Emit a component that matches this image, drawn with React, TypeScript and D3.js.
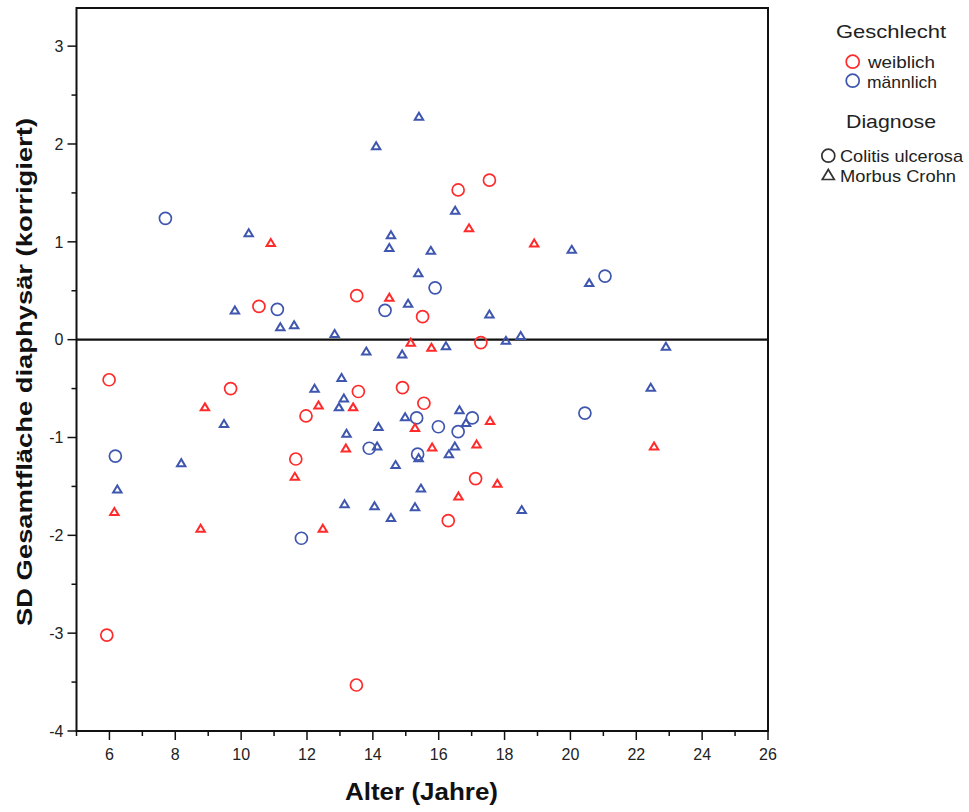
import React from "react";
import * as d3 from "d3";

// [age, sd]
const femaleUC: [number, number][] = [
  [16.59, 1.53], [17.54, 1.63], [13.51, 0.45], [15.51, 0.235], [10.54, 0.34],
  [17.28, -0.03], [5.99, -0.41], [9.68, -0.5], [13.56, -0.53], [14.9, -0.49],
  [15.55, -0.65], [11.97, -0.78], [11.66, -1.22], [17.12, -1.42], [16.29, -1.85],
  [5.92, -3.02], [13.5, -3.53],
];
const femaleCD: [number, number][] = [
  [10.9, 0.99], [14.5, 0.43], [16.92, 1.14], [18.9, 0.985], [15.15, -0.03],
  [15.78, -0.08], [12.35, -0.67], [13.4, -0.69], [8.9, -0.69], [15.28, -0.9],
  [13.18, -1.11], [15.8, -1.1], [17.56, -0.83], [17.15, -1.07], [22.54, -1.09],
  [11.63, -1.4], [17.78, -1.47], [16.6, -1.6], [6.15, -1.76], [8.77, -1.93],
  [12.48, -1.93],
];
const maleUC: [number, number][] = [
  [7.7, 1.24], [11.1, 0.31], [14.37, 0.3], [15.89, 0.53], [21.05, 0.65],
  [15.33, -0.8], [15.99, -0.89], [13.89, -1.11], [15.36, -1.17], [6.18, -1.19],
  [20.44, -0.75], [16.59, -0.94], [17.02, -0.8], [11.83, -2.03],
];
const maleCD: [number, number][] = [
  [15.4, 2.28], [14.1, 1.98], [10.23, 1.09], [14.55, 1.07], [14.5, 0.94],
  [15.76, 0.91], [15.38, 0.68], [15.07, 0.37], [9.81, 0.3], [11.19, 0.13],
  [11.61, 0.15], [12.84, 0.06], [16.5, 1.32], [20.04, 0.92], [20.57, 0.58],
  [17.54, 0.26], [18.49, 0.04], [18.04, -0.01], [22.9, -0.07], [16.22, -0.065],
  [13.8, -0.12], [14.89, -0.15], [13.05, -0.39], [12.23, -0.5], [13.12, -0.6],
  [12.97, -0.69], [9.48, -0.86], [14.98, -0.79], [14.17, -0.89], [13.2, -0.96],
  [14.13, -1.09], [15.39, -1.21], [8.18, -1.26], [14.69, -1.28], [6.24, -1.53],
  [15.46, -1.52], [13.14, -1.68], [14.05, -1.7], [15.28, -1.71], [14.55, -1.82],
  [22.44, -0.49], [16.63, -0.72], [16.83, -0.85], [16.49, -1.09], [16.31, -1.17],
  [18.52, -1.74],
];

const xMajorTicks = [6, 8, 10, 12, 14, 16, 18, 20, 22, 24, 26];
const xMinorTicks = [5, 7, 9, 11, 13, 15, 17, 19, 21, 23, 25];
const yMajorTicks = [-4, -3, -2, -1, 0, 1, 2, 3];
const yMinorTicks = [-3.5, -2.5, -1.5, -0.5, 0.5, 1.5, 2.5];

const xTitle = "Alter (Jahre)";
const yTitle = "SD Gesamtfläche diaphysär (korrigiert)";
const legendSexTitle = "Geschlecht";
const legendSex = ["weiblich", "männlich"];
const legendDiagTitle = "Diagnose";
const legendDiag = ["Colitis ulcerosa", "Morbus Crohn"];

const RED = "#ff2a2a";
const BLUE = "#3f56ae";
const FONT = "'Liberation Sans', Arial, sans-serif";

const x = d3.scaleLinear().domain([5, 26]).range([76.5, 768]);
const y = d3.scaleLinear().domain([-4, 3.39]).range([731, 8]);

const triPath = "M0,-3.8L4.2,3.2L-4.2,3.2Z";

export default function App() {
  const [x0, x1] = x.range();
  const [y0, y1] = y.range();
  const circ = (data: [number, number][], color: string, key: string) =>
    data.map((d, i) => (
      <circle key={key + i} cx={x(d[0])} cy={y(d[1])} r={6} fill="none" stroke={color} strokeWidth={1.7} />
    ));
  const tri = (data: [number, number][], color: string, key: string) =>
    data.map((d, i) => (
      <path key={key + i} d={triPath} transform={`translate(${x(d[0])},${y(d[1])})`} fill="none" stroke={color} strokeWidth={2} strokeLinejoin="miter" />
    ));
  return (
    <svg width={969} height={812} style={{ position: "absolute", left: 0, top: 0, background: "#fff" }} fontFamily={FONT}>
      <rect x={0} y={0} width={969} height={812} fill="#fff" />
      {/* frame */}
      <rect x={x0} y={y1} width={x1 - x0} height={y0 - y1} fill="none" stroke="#111" strokeWidth={2} />
      {/* zero line */}
      <line x1={x0} x2={x1} y1={y(0)} y2={y(0)} stroke="#111" strokeWidth={2.2} />
      {/* y ticks */}
      {yMajorTicks.map((t) => (
        <g key={"ym" + t}>
          <line x1={x0 - 9} x2={x0} y1={y(t)} y2={y(t)} stroke="#111" strokeWidth={1.5} />
          <text x={x0 - 13} y={y(t)} dy="0.36em" textAnchor="end" fontSize={16} fill="#222">{t}</text>
        </g>
      ))}
      {yMinorTicks.map((t) => (
        <line key={"yn" + t} x1={x0 - 5} x2={x0} y1={y(t)} y2={y(t)} stroke="#111" strokeWidth={1.5} />
      ))}
      {/* x ticks */}
      {xMajorTicks.map((t) => (
        <g key={"xm" + t}>
          <line x1={x(t)} x2={x(t)} y1={y0} y2={y0 + 9} stroke="#111" strokeWidth={1.5} />
          <text x={x(t)} y={760} textAnchor="middle" fontSize={16} fill="#222">{t}</text>
        </g>
      ))}
      {xMinorTicks.map((t) => (
        <line key={"xn" + t} x1={x(t)} x2={x(t)} y1={y0} y2={y0 + 5} stroke="#111" strokeWidth={1.5} />
      ))}
      {/* axis titles */}
      <text x={345} y={800} fontSize={23} fontWeight="bold" fill="#111" textLength={153} lengthAdjust="spacingAndGlyphs">{xTitle}</text>
      <text transform={`translate(32,626) rotate(-90)`} fontSize={22} fontWeight="bold" fill="#111" textLength={508} lengthAdjust="spacingAndGlyphs">{yTitle}</text>
      {/* points */}
      {tri(maleCD, BLUE, "mcd")}
      {circ(maleUC, BLUE, "muc")}
      {tri(femaleCD, RED, "fcd")}
      {circ(femaleUC, RED, "fuc")}
      {/* legend */}
      <text x={836} y={38} fontSize={19} fill="#222" textLength={110} lengthAdjust="spacingAndGlyphs">{legendSexTitle}</text>
      <circle cx={852.7} cy={61.7} r={6.5} fill="none" stroke={RED} strokeWidth={1.7} />
      <text x={868} y={68} fontSize={17} fill="#222" textLength={67} lengthAdjust="spacingAndGlyphs">{legendSex[0]}</text>
      <circle cx={852.7} cy={80.7} r={6.5} fill="none" stroke={BLUE} strokeWidth={1.7} />
      <text x={867} y={88} fontSize={17} fill="#222" textLength={70} lengthAdjust="spacingAndGlyphs">{legendSex[1]}</text>
      <text x={846} y={128} fontSize={19} fill="#222" textLength={90} lengthAdjust="spacingAndGlyphs">{legendDiagTitle}</text>
      <circle cx={828.3} cy={155.7} r={6.5} fill="none" stroke="#333" strokeWidth={1.7} />
      <text x={840} y={161.7} fontSize={17} fill="#222" textLength={123} lengthAdjust="spacingAndGlyphs">{legendDiag[0]}</text>
      <path d="M0,-5.5L6,4.5L-6,4.5Z" transform="translate(828.3,175)" fill="none" stroke="#333" strokeWidth={1.7} />
      <text x={840} y={181.7} fontSize={17} fill="#222" textLength={116} lengthAdjust="spacingAndGlyphs">{legendDiag[1]}</text>
    </svg>
  );
}
